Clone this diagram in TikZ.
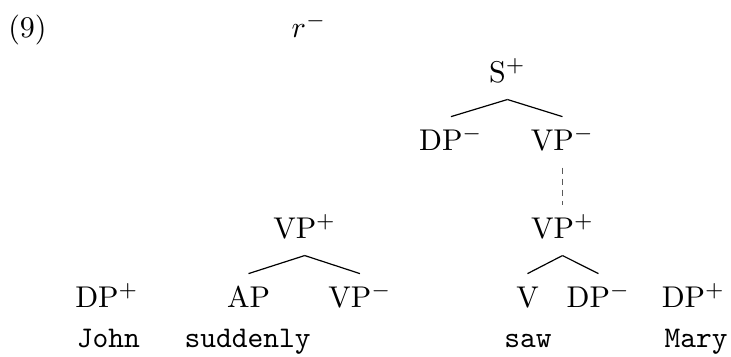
\documentclass[tikz,border=0pt]{standalone}
\usepackage{amsmath}
\usepackage{amssymb}
\usepackage{tikz}
\tikzset{cat/.style={anchor=base, text height=7.6pt, text depth=2.3pt}, word/.style={anchor=base, font=\ttfamily}, link/.style={draw=black!65, dash pattern=on 2.2pt off 1.5pt}}

\begin{document}
\begin{tikzpicture}
\useasboundingbox (0,0) rectangle (8.564,4.171);
\node[cat] (ex) at (.322,3.73) {(9)};
\node[cat] (r) at (3.62,3.73) {$r^-$};
\node[cat] (S) at (5.945,3.21) {S$^+$};
\node[cat] (DPs) at (5.283,2.413) {DP$^-$};
\node[cat] (VPs) at (6.59,2.413) {VP$^-$};
\node[cat] (VPr) at (6.59,1.382) {VP$^+$};
\node[cat] (VPl) at (3.57,1.382) {VP$^+$};
\node[cat] (DPj) at (1.253,.574) {DP$^+$};
\node[cat] (AP) at (2.911,.574) {AP};
\node[cat] (VPa) at (4.217,.574) {VP$^-$};
\node[cat] (V) at (6.18,.574) {V};
\node[cat] (DPo) at (7.011,.574) {DP$^-$};
\node[cat] (DPm) at (8.124,.574) {DP$^+$};
\node[word] (John) at (1.27,.094) {John};
\node[word] (suddenly) at (2.9,.094) {suddenly};
\node[word] (saw) at (6.186,.094) {saw};
\node[word] (Mary) at (8.154,.094) {Mary};
\draw (S.south) -- (DPs.north);
\draw (S.south) -- (VPs.north);
\draw[link] (VPs.south) -- (VPr.north);
\draw (VPr.south) -- (V.north);
\draw (VPr.south) -- (DPo.north);
\draw (VPl.south) -- (AP.north);
\draw (VPl.south) -- (VPa.north);
\end{tikzpicture}
\end{document}
